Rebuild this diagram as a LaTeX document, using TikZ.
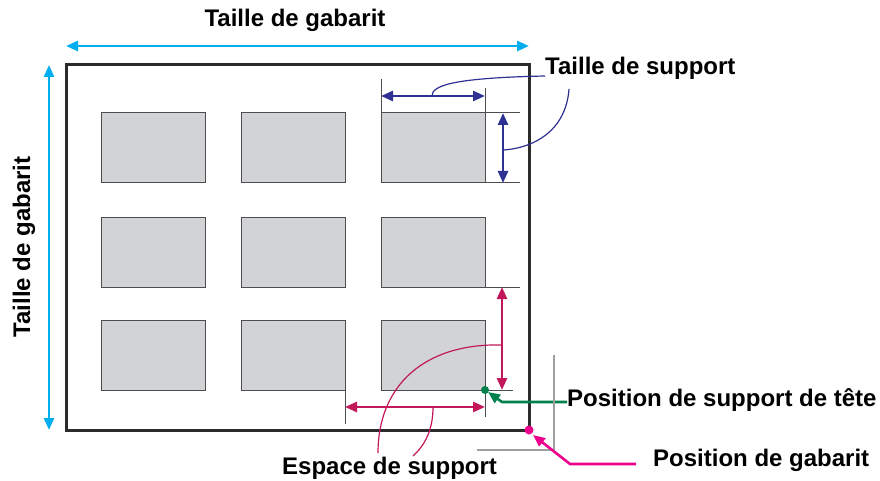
\documentclass[tikz,border=0pt]{standalone}
\usepackage{fontspec}
\setmainfont{Liberation Sans}
\usetikzlibrary{arrows.meta}
\definecolor{cyanA}{HTML}{00AEEF}
\definecolor{navyA}{HTML}{2E3192}
\definecolor{crimA}{HTML}{C2185B}
\definecolor{greenA}{HTML}{00804A}
\definecolor{pinkA}{HTML}{EC008C}
\definecolor{frameA}{HTML}{2B2B2B}
\definecolor{mediaA}{HTML}{D1D3D4}
\definecolor{edgeA}{HTML}{4D4D4F}
\begin{document}
\begin{tikzpicture}[x=1pt,y=-1pt,
  lbl/.style={font=\fontsize{24}{28}\selectfont\bfseries, inner sep=0pt, text=black},
  media/.style={draw=edgeA, line width=1pt, fill=mediaA, minimum width=104pt, minimum height=70pt, inner sep=0pt, outer sep=0pt, anchor=north west},
  ext/.style={draw=edgeA, line width=1pt},
  tipA/.tip={Triangle[length=12pt,width=10pt]},
  cyanarr/.style={draw=cyanA, line width=2.6pt, tipA-tipA},
  navyarr/.style={draw=navyA, line width=2.6pt, tipA-tipA},
  crimarr/.style={draw=crimA, line width=2.6pt, tipA-tipA},
  navycall/.style={draw=navyA, line width=1.2pt},
  crimcall/.style={draw=crimA, line width=1.2pt}
]
\useasboundingbox (0,0) rectangle (880,481);

% frame
\coordinate (fTL) at (66,65);
\coordinate (fBR) at (529,430);
\draw[frameA, line width=3pt] (fTL) rectangle (fBR);

% media rectangles
\node[media] (r11) at (101,113) {};
\node[media] (r12) at (241,113) {};
\node[media] (r13) at (381,113) {};
\node[media] (r21) at (101,217) {};
\node[media] (r22) at (241,217) {};
\node[media] (r23) at (381,217) {};
\node[media] (r31) at (101,320) {};
\node[media] (r32) at (241,320) {};
\node[media] (r33) at (381,320) {};

% template size arrows
\coordinate (tA) at (66,46);
\coordinate (tB) at (529,46);
\draw[cyanarr] (tA) -- (tB);
\coordinate (lA) at (49,65);
\coordinate (lB) at (49,430);
\draw[cyanarr] (lA) -- (lB);
\node[lbl, anchor=base] (ttop) at (295,27) {Taille de gabarit};
\node[lbl, rotate=90, anchor=base] (tleft) at (30,247) {Taille de gabarit};

% media size
\coordinate (e1) at (381,79);
\coordinate (e2) at (485,88);
\draw[ext] (r13.north west) -- (e1);
\draw[ext] (r13.north east) -- (e2);
\coordinate (h1) at (381,96);
\coordinate (h2) at (485,96);
\draw[navyarr] (h1) -- (h2);
\coordinate (e3) at (520,113);
\coordinate (e4) at (520,183);
\draw[ext] (r13.north east) -- (e3);
\draw[ext] (r13.south east) -- (e4);
\coordinate (v1) at (503,113);
\coordinate (v2) at (503,183);
\draw[navyarr] (v1) -- (v2);
\node[lbl, anchor=base west] (tsup) at (545,75) {Taille de support};
\coordinate (c1) at (545,76);
\coordinate (c1e) at (432,96);
\draw[navycall] (c1) .. controls (450,78) and (432,86) .. (c1e);
\coordinate (c2) at (569,89);
\coordinate (c2e) at (503,150);
\draw[navycall] (c2) .. controls (566,130) and (535,148) .. (c2e);

% media spacing
\coordinate (e5) at (520,287);
\coordinate (e6) at (513,390);
\draw[ext] (r23.south east) -- (e5);
\draw[ext] (r33.south east) -- (e6);
\coordinate (m1) at (502,287);
\coordinate (m2) at (502,390);
\draw[crimarr] (m1) -- (m2);
\coordinate (e7) at (345,424);
\coordinate (e8) at (485,417);
\draw[ext] (r32.south east) -- (e7);
\draw[ext] (r33.south east) -- (e8);
\coordinate (n1) at (345,407);
\coordinate (n2) at (485,407);
\draw[crimarr] (n1) -- (n2);
\node[lbl, anchor=base west] (tesp) at (282,474) {Espace de support};
\coordinate (c3) at (502,345);
\coordinate (c3e) at (378,453);
\draw[crimcall] (c3) .. controls (425,343) and (378,385) .. (c3e);
\coordinate (c4) at (433,407);
\coordinate (c4e) at (413,456);
\draw[crimcall] (c4) .. controls (433,430) and (425,445) .. (c4e);

% head media position
\fill[greenA] (r33.south east) circle (4pt);
\node[lbl, anchor=base west] (thead) at (567,406) {Position de support de tête};
\coordinate (g1) at (567,402);
\coordinate (g2) at (502,402);
\coordinate (g3) at (488,392);
\draw[greenA, line width=2.6pt, -tipA] (g1) -- (g2) -- (g3);

% template position
\coordinate (k1) at (554,355);
\coordinate (k2) at (554,450);
\coordinate (k3) at (477,450);
\draw[gray!75, line width=1.2pt] (k1) -- (k2) -- (k3);
\fill[pinkA] (fBR) circle (4.5pt);
\node[lbl, anchor=base west] (tpos) at (653,466) {Position de gabarit};
\coordinate (p1) at (636,464);
\coordinate (p2) at (570,464);
\coordinate (p3) at (533,435);
\draw[pinkA, line width=2.6pt, -tipA] (p1) -- (p2) -- (p3);
\end{tikzpicture}
\end{document}
